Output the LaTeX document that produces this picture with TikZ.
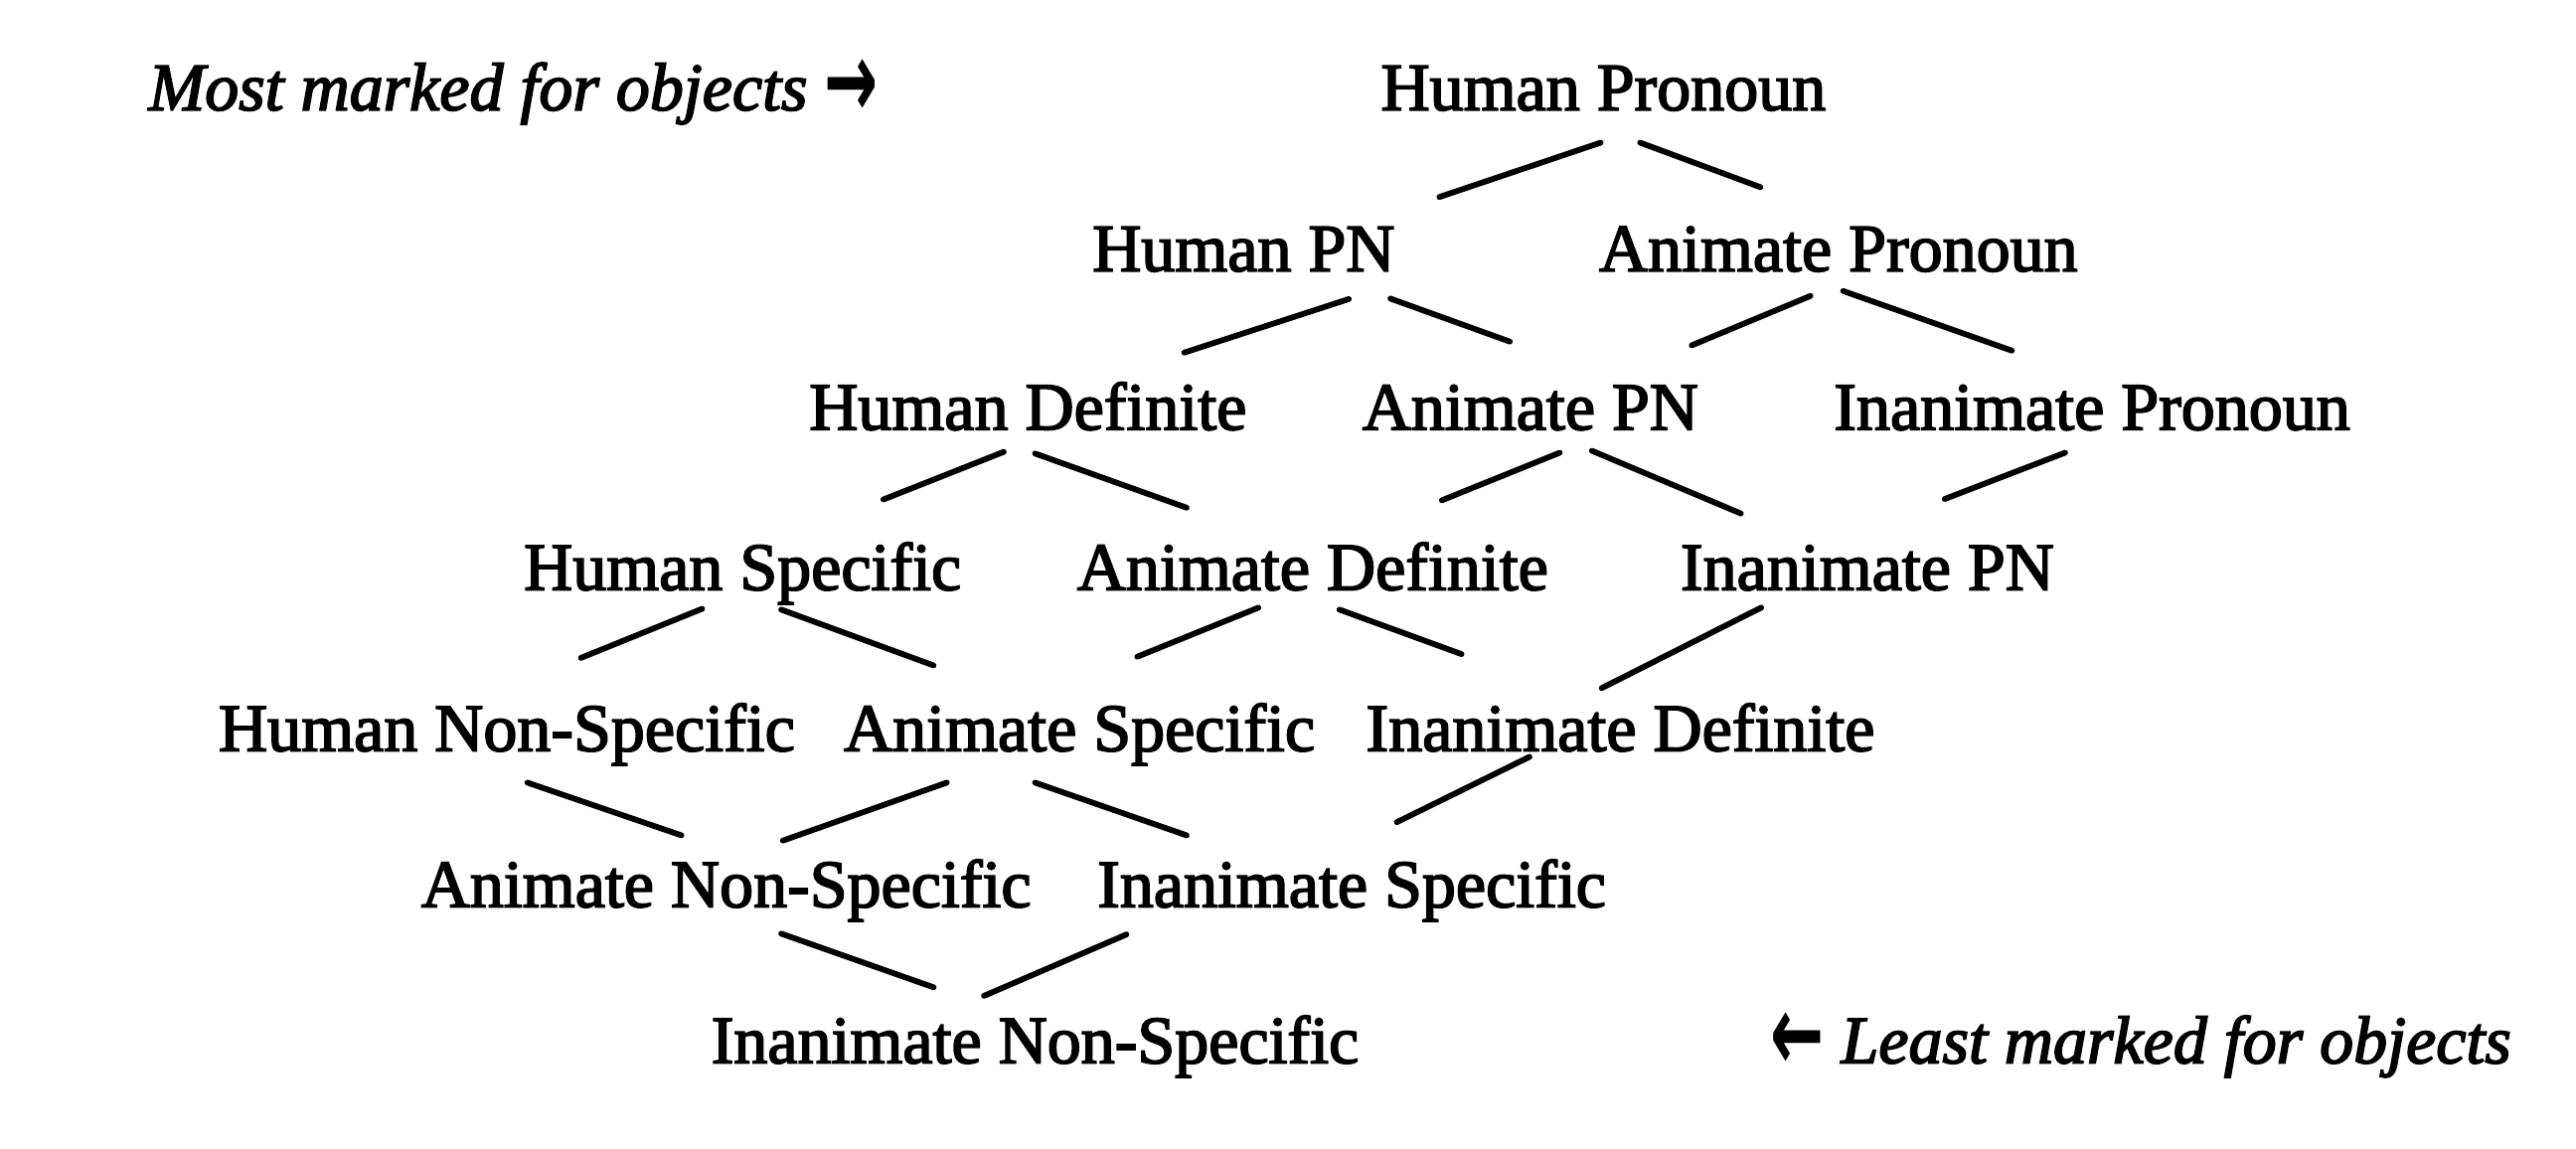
\documentclass[tikz,border=0pt]{standalone}
\usepackage{fontspec}
\setmainfont{Liberation Serif}[FakeBold=2.5]
\newfontfamily\arrowfont{DejaVu Sans}
\newcommand{\tallarrow}[1]{{\arrowfont\bfseries\upshape\raisebox{-0.12em}{\scalebox{0.95}[1.6]{#1}}}}
\begin{document}
\begin{tikzpicture}[x=0.41327pt,y=-0.41327pt,
  lbl/.style={anchor=base,inner sep=0pt,font=\fontsize{17}{20}\selectfont},
  note/.style={inner sep=0pt,font=\fontsize{17}{20}\selectfont\itshape},
  link/.style={line width=1.45pt,line cap=round}]
\fill[white] (0,0) rectangle (1568,699);
\useasboundingbox (0,0) rectangle (1568,699);
% row 1
\node[lbl] (hp) at (976,67) {Human Pronoun};
\node[note,anchor=base west] (most) at (90,67) {Most marked for objects \tallarrow{→}};
% row 2
\node[lbl] (hpn) at (757,165) {Human PN};
\node[lbl] (ap) at (1119,165) {Animate Pronoun};
% row 3
\node[lbl] (hd) at (625.7,261.5) {Human Definite};
\node[lbl] (apn) at (931.5,261.5) {Animate PN};
\node[lbl] (ip) at (1273.4,261.5) {Inanimate Pronoun};
% row 4
\node[lbl] (hs) at (452,359) {Human Specific};
\node[lbl] (ad) at (799,359) {Animate Definite};
\node[lbl] (ipn) at (1136.6,359) {Inanimate PN};
% row 5
\node[lbl] (hns) at (308.5,457) {Human Non-Specific};
\node[lbl] (as) at (657,457) {Animate Specific};
\node[lbl] (id) at (986.3,457) {Inanimate Definite};
% row 6
\node[lbl] (ans) at (442,552) {Animate Non-Specific};
\node[lbl] (is) at (822.7,552) {Inanimate Specific};
% row 7
\node[lbl] (ins) at (630,647) {Inanimate Non-Specific};
\node[note,anchor=base east] (least) at (1529,647) {\tallarrow{←} Least marked for objects};
% links
\draw[link] ([shift={(-1.7,19.8)}]hp.base) -- ([shift={(119.1,-45.1)}]hpn.base);
\draw[link] ([shift={(22.3,19.8)}]hp.base) -- ([shift={(-47.5,-51.1)}]ap.base);
\draw[link] ([shift={(64,17)}]hpn.base) -- ([shift={(95.1,-46.9)}]hd.base);
\draw[link] ([shift={(89.3,16.7)}]hpn.base) -- ([shift={(-12.5,-53.6)}]apn.base);
\draw[link] ([shift={(-17,15.1)}]ap.base) -- ([shift={(98.2,-51.3)}]apn.base);
\draw[link] ([shift={(2.9,12.1)}]ap.base) -- ([shift={(-48.8,-48.1)}]ip.base);
\draw[link] ([shift={(-14.7,13.5)}]hd.base) -- ([shift={(85.7,-55)}]hs.base);
\draw[link] ([shift={(4.3,14.5)}]hd.base) -- ([shift={(-76.7,-50)}]ad.base);
\draw[link] ([shift={(17.9,14)}]apn.base) -- ([shift={(78.6,-54.5)}]ad.base);
\draw[link] ([shift={(37.4,12.8)}]apn.base) -- ([shift={(-77,-46.5)}]ipn.base);
\draw[link] ([shift={(-16.4,14)}]ip.base) -- ([shift={(47.1,-55.3)}]ipn.base);
\draw[link] ([shift={(-24.6,11.5)}]hs.base) -- ([shift={(45.1,-56.6)}]hns.base);
\draw[link] ([shift={(23.5,12)}]hs.base) -- ([shift={(-88.7,-52)}]as.base);
\draw[link] ([shift={(-33,10.8)}]ad.base) -- ([shift={(35.2,-57.3)}]as.base);
\draw[link] ([shift={(16.3,12)}]ad.base) -- ([shift={(-96.7,-58.9)}]id.base);
\draw[link] ([shift={(-64.6,10.8)}]ipn.base) -- ([shift={(-11.4,-38.2)}]id.base);
\draw[link] ([shift={(12.5,19.3)}]hns.base) -- ([shift={(-27.2,-43.6)}]ans.base);
\draw[link] ([shift={(-80.7,19.3)}]as.base) -- ([shift={(34.5,-40.4)}]ans.base);
\draw[link] ([shift={(-27,19.3)}]as.base) -- ([shift={(-100.4,-43.6)}]is.base);
\draw[link] ([shift={(-55.3,3.6)}]id.base) -- ([shift={(27.5,-51.6)}]is.base);
\draw[link] ([shift={(33.5,16.2)}]ans.base) -- ([shift={(-61.7,-46.1)}]ins.base);
\draw[link] ([shift={(-137,16.7)}]is.base) -- ([shift={(-31.1,-40.9)}]ins.base);
\end{tikzpicture}
\end{document}
